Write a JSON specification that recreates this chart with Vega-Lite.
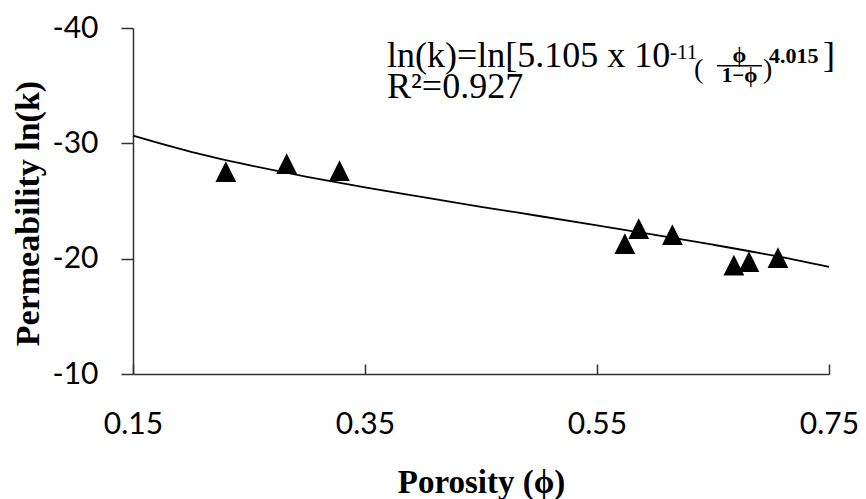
{
  "$schema": "https://vega.github.io/schema/vega-lite/v6.json",
  "width": 696,
  "height": 346,
  "autosize": {"type": "none"},
  "padding": {"left": 133, "top": 28, "right": 37, "bottom": 125},
  "background": "white",
  "config": {"view": {"stroke": null}},
  "data": {"values": [{}]},
  "datasets": {
    "points": [
      {"porosity": 0.230, "lnk": -27.55},
      {"porosity": 0.2825, "lnk": -28.24},
      {"porosity": 0.328, "lnk": -27.63},
      {"porosity": 0.574, "lnk": -21.31},
      {"porosity": 0.586, "lnk": -22.61},
      {"porosity": 0.615, "lnk": -22.09},
      {"porosity": 0.668, "lnk": -19.45},
      {"porosity": 0.681, "lnk": -19.75},
      {"porosity": 0.706, "lnk": -20.10}
    ],
    "fit": [
      {"porosity": 0.15, "lnk": -30.66},
      {"porosity": 0.20, "lnk": -29.26},
      {"porosity": 0.25, "lnk": -28.11},
      {"porosity": 0.30, "lnk": -27.10},
      {"porosity": 0.35, "lnk": -26.18},
      {"porosity": 0.40, "lnk": -25.33},
      {"porosity": 0.45, "lnk": -24.50},
      {"porosity": 0.50, "lnk": -23.70},
      {"porosity": 0.55, "lnk": -22.89},
      {"porosity": 0.60, "lnk": -22.07},
      {"porosity": 0.65, "lnk": -21.21},
      {"porosity": 0.70, "lnk": -20.30},
      {"porosity": 0.75, "lnk": -19.29}
    ]
  },
  "layer": [
    {
      "data": {"name": "fit"},
      "mark": {"type": "line", "color": "black", "strokeWidth": 1.8, "interpolate": "monotone"},
      "encoding": {
        "x": {
          "field": "porosity", "type": "quantitative",
          "scale": {"domain": [0.15, 0.75], "nice": false, "zero": false},
          "axis": {
            "title": "Porosity (ϕ)",
            "values": [0.15, 0.35, 0.55, 0.75],
            "format": ".2f",
            "grid": false,
            "domainColor": "#333333", "domainWidth": 1.5,
            "tickColor": "#333333", "tickWidth": 1.5, "tickSize": -10,
            "labelFont": "Lato", "labelFontSize": 30, "labelColor": "black",
            "labelPadding": 45, "labelFlush": false,
            "titleFont": "Liberation Serif", "titleFontWeight": "bold",
            "titleFontSize": 33, "titleColor": "black", "titlePadding": 27
          }
        },
        "y": {
          "field": "lnk", "type": "quantitative",
          "scale": {"domain": [-40, -10], "nice": false, "zero": false, "reverse": true},
          "axis": {
            "title": "Permeability ln(k)",
            "values": [-40, -30, -20, -10],
            "labelExpr": "replace(datum.label, '−', '-')",
            "grid": false,
            "domainColor": "#333333", "domainWidth": 1.5,
            "tickColor": "#333333", "tickWidth": 1.5, "tickSize": 12,
            "labelFont": "Lato", "labelFontSize": 30, "labelColor": "black",
            "labelPadding": 23, "labelFlush": false,
            "titleFont": "Liberation Serif", "titleFontWeight": "bold",
            "titleFontSize": 34, "titleColor": "black", "titlePadding": 7,
            "titleY": 185
          }
        }
      }
    },
    {
      "data": {"name": "points"},
      "mark": {"type": "point", "shape": "M0,-1L1,1L-1,1Z", "filled": true, "color": "black", "opacity": 1, "size": 430},
      "encoding": {
        "x": {"field": "porosity", "type": "quantitative"},
        "y": {"field": "lnk", "type": "quantitative"}
      }
    },
    {
      "mark": {"type": "text", "font": "Liberation Serif", "fontSize": 36, "align": "left", "baseline": "alphabetic", "color": "black"},
      "encoding": {"x": {"datum": 0.369}, "y": {"datum": -36.65}, "text": {"value": "ln(k)=ln[5.105 x 10"}}
    },
    {
      "mark": {"type": "text", "font": "Liberation Serif", "fontSize": 21, "align": "left", "baseline": "alphabetic", "color": "black"},
      "encoding": {"x": {"datum": 0.6129}, "y": {"datum": -37.35}, "text": {"value": "-11"}}
    },
    {
      "mark": {"type": "text", "font": "Liberation Serif", "fontSize": 28, "align": "left", "baseline": "alphabetic", "color": "black"},
      "encoding": {"x": {"datum": 0.6336}, "y": {"datum": -35.70}, "text": {"value": "("}}
    },
    {
      "mark": {"type": "rule", "color": "black", "strokeWidth": 1.5},
      "encoding": {"x": {"datum": 0.6534}, "x2": {"datum": 0.6922}, "y": {"datum": -36.73}}
    },
    {
      "mark": {"type": "text", "font": "Liberation Serif", "fontWeight": "bold", "fontSize": 22, "align": "center", "baseline": "alphabetic", "color": "black"},
      "encoding": {"x": {"datum": 0.6728}, "y": {"datum": -37.08}, "text": {"value": "ϕ"}}
    },
    {
      "mark": {"type": "text", "font": "Liberation Serif", "fontWeight": "bold", "fontSize": 21, "align": "center", "baseline": "alphabetic", "color": "black"},
      "encoding": {"x": {"datum": 0.6728}, "y": {"datum": -35.34}, "text": {"value": "1−ϕ"}}
    },
    {
      "mark": {"type": "text", "font": "Liberation Serif", "fontSize": 28, "align": "left", "baseline": "alphabetic", "color": "black"},
      "encoding": {"x": {"datum": 0.6931}, "y": {"datum": -35.70}, "text": {"value": ")"}}
    },
    {
      "mark": {"type": "text", "font": "Liberation Serif", "fontWeight": "bold", "fontSize": 22, "align": "left", "baseline": "alphabetic", "color": "black"},
      "encoding": {"x": {"datum": 0.6983}, "y": {"datum": -36.99}, "text": {"value": "4.015"}}
    },
    {
      "mark": {"type": "text", "font": "Liberation Serif", "fontSize": 36, "align": "left", "baseline": "alphabetic", "color": "black"},
      "encoding": {"x": {"datum": 0.7448}, "y": {"datum": -36.65}, "text": {"value": "]"}}
    },
    {
      "mark": {"type": "text", "font": "Liberation Serif", "fontSize": 36, "align": "left", "baseline": "alphabetic", "color": "black"},
      "encoding": {"x": {"datum": 0.369}, "y": {"datum": -33.93}, "text": {"value": "R²=0.927"}}
    }
  ]
}
